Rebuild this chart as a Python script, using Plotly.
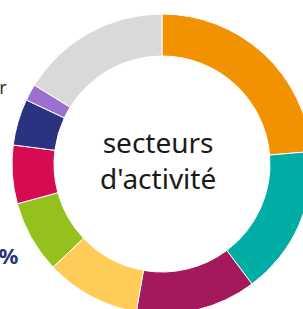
import plotly.graph_objects as go

sectors = ["Secteur A", "Secteur B", "Secteur C", "Secteur D", "Secteur E",
           "Secteur F", "Secteur G", "Secteur H", "Autres"]
shares = [23.7, 16.1, 13.0, 10.2, 7.8, 6.3, 5.0, 1.8, 16.2]
colors = ["#f39200", "#00ada5", "#a3195b", "#ffcd57", "#95c11f",
          "#d60b51", "#2b3280", "#9b70cf", "#d9d9d9"]

fig = go.Figure(go.Pie(
    labels=sectors, values=shares, hole=0.72, sort=False,
    direction="clockwise", rotation=0,
    marker=dict(colors=colors, line=dict(color="white", width=1)),
    textinfo="none", hoverinfo="label+percent", showlegend=False,
    domain=dict(x=[0, 1], y=[0, 1]),
))

fig.add_annotation(x=0.5, y=0.5, xref="paper", yref="paper", xshift=-4, yshift=4,
                   xanchor="center", yanchor="middle",
                   text="secteurs<br>d'activité", showarrow=False,
                   font=dict(family="Noto Sans", size=28, color="#1a1a1a"))
fig.add_annotation(x=-0.01, y=0.758, xref="paper", yref="paper",
                   xanchor="right", yanchor="middle",
                   text="secteur", showarrow=False,
                   font=dict(family="Noto Sans", size=18, color="#333333"))
fig.add_annotation(x=0.03, y=0.197, xref="paper", yref="paper",
                   xanchor="right", yanchor="middle",
                   text="<b>8%</b>", showarrow=False,
                   font=dict(family="Noto Sans", size=22, color="#2b3280"))

fig.update_layout(width=324, height=328,
                  margin=dict(l=12, r=12, t=14, b=14),
                  paper_bgcolor="white", plot_bgcolor="white")

fig.write_html("out.html", config={"displayModeBar": False},
               post_script="document.body.style.margin='0';document.body.style.overflow='hidden';document.documentElement.style.overflow='hidden';")
